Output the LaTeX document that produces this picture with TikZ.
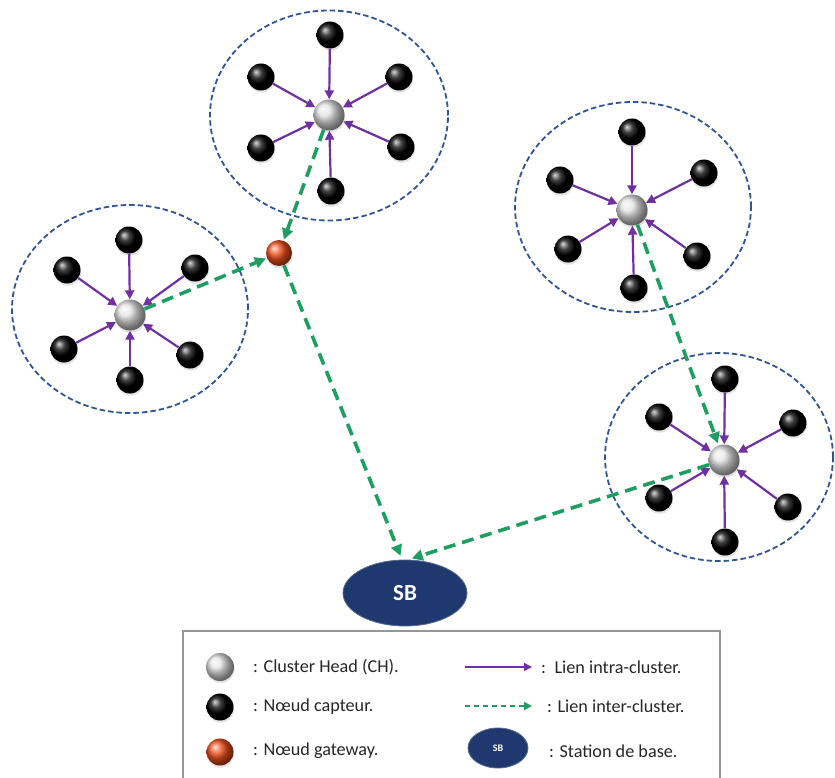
\documentclass[tikz,border=0pt]{standalone}
\usepackage{fontspec}
\setmainfont{Carlito}
\usetikzlibrary{arrows.meta,shadows,shapes.geometric}

\definecolor{ringblue}{RGB}{47,85,151}
\definecolor{intra}{RGB}{112,48,160}
\definecolor{inter}{RGB}{30,158,96}
\definecolor{navy}{RGB}{31,56,110}
\definecolor{gwred}{RGB}{240,80,28}
\definecolor{framegray}{RGB}{150,150,150}

\tikzset{
  ball/.style={circle, inner sep=0pt, draw=none,
    drop shadow={opacity=0.22, shadow xshift=0.6pt, shadow yshift=-2.2pt}},
  sensor/.style={ball, minimum size=27pt, ball color=black},
  head/.style={ball, minimum size=31pt, ball color=gray!22},
  gateway/.style={ball, minimum size=26pt, ball color=gwred},
  cluster/.style={ellipse, draw=ringblue, line width=1.8pt, dash pattern=on 5.5pt off 3pt, inner sep=0pt},
  intralink/.style={intra, line width=2.2pt, -{Triangle[length=9pt,width=9pt]}},
  interlink/.style={inter, line width=3.6pt, dash pattern=on 12pt off 7pt, -{Triangle[length=11pt,width=11pt]}},
  station/.style={ellipse, fill=navy, draw=navy!75!white, line width=0.8pt, text=white, inner sep=0pt},
  legendtext/.style={anchor=west, inner sep=0pt, font=\fontsize{18.2}{20}\selectfont, text=black!85},
}

\begin{document}
\begin{tikzpicture}[x=1pt,y=-1pt]
\useasboundingbox (0,0) rectangle (835,778);

% cluster outlines
\node[cluster, minimum width=238pt, minimum height=210pt] (k1) at (329,115.5) {};
\node[cluster, minimum width=236pt, minimum height=208pt] (k2) at (130,309) {};
\node[cluster, minimum width=236pt, minimum height=210pt] (k3) at (633,207) {};
\node[cluster, minimum width=228pt, minimum height=208pt] (k4) at (719,457) {};

% cluster heads
\node[head] (h1) at (329,115) {};
\node[head] (h2) at (130,315) {};
\node[head] (h3) at (632,210) {};
\node[head] (h4) at (724,460) {};

% sensor nodes of each cluster
\foreach \n/\x/\y in {a/330/35, b/261/77, c/399/77, d/261/148, e/401/147, f/331/191}
  \node[sensor] (s1\n) at (\x,\y) {};
\foreach \n/\x/\y in {a/129/240, b/67/270, c/195/268, d/64/349, e/190/355, f/130/380}
  \node[sensor] (s2\n) at (\x,\y) {};
\foreach \n/\x/\y in {a/632/132, b/560/180, c/704/173, d/568/249, e/697/256, f/634/288}
  \node[sensor] (s3\n) at (\x,\y) {};
\foreach \n/\x/\y in {a/725/379, b/659/417, c/793/423, d/659/498, e/788/507, f/725/542}
  \node[sensor] (s4\n) at (\x,\y) {};

% intra-cluster links
\foreach \k in {1,2,3,4}
  \foreach \n in {a,b,c,d,e,f}
    \draw[intralink] (s\k\n) -- (h\k);

% gateway and base station
\node[gateway] (gw) at (279,253) {};
\node[station, minimum width=124pt, minimum height=66pt,
      font=\bfseries\fontsize{23}{25}\selectfont] (sb) at (405,593) {SB};

% inter-cluster links
\draw[interlink, shorten >=1pt] (h1) -- (gw);
\draw[interlink, shorten >=1pt] (h2) -- (gw);
\draw[interlink, shorten >=4pt] (gw) -- ([xshift=-3pt]sb.north);
\draw[interlink, shorten >=2pt] (h3) -- (h4);
\draw[interlink, shorten >=4pt] (h4) -- ([xshift=3pt]sb.north);

% legend frame
\draw[framegray, line width=1.8pt] (183,778) |- (720,631) -- (720,778);

% legend entries
\node[head, minimum size=28pt] (lh) at (220,667) {};
\node[sensor] (ls) at (220,707) {};
\node[gateway, minimum size=27pt] (lg) at (220,752) {};
\node[legendtext] (th) at (253,667) {: Cluster Head (CH).};
\node[legendtext] (ts) at (253,707) {: Nœud capteur.};
\node[legendtext] (tg) at (253,751) {: Nœud gateway.};

\coordinate (ia) at (465,667);
\coordinate (ib) at (532,667);
\draw[intra, line width=1.6pt, -{Triangle[length=8pt,width=8pt]}] (ia) -- (ib);
\coordinate (ea) at (465,706);
\coordinate (eb) at (532,706);
\draw[inter, line width=2pt, dash pattern=on 5pt off 4pt, -{Triangle[length=8pt,width=8pt]}] (ea) -- (eb);
\node[station, minimum width=60pt, minimum height=40pt,
      font=\bfseries\fontsize{10}{12}\selectfont] (lsb) at (498,748) {SB};

\node[legendtext] (ti) at (541,667) {:\, Lien intra-cluster.};
\node[legendtext] (te) at (547,706) {: Lien inter-cluster.};
\node[legendtext] (tb) at (549,751) {: Station de base.};
\end{tikzpicture}
\end{document}
